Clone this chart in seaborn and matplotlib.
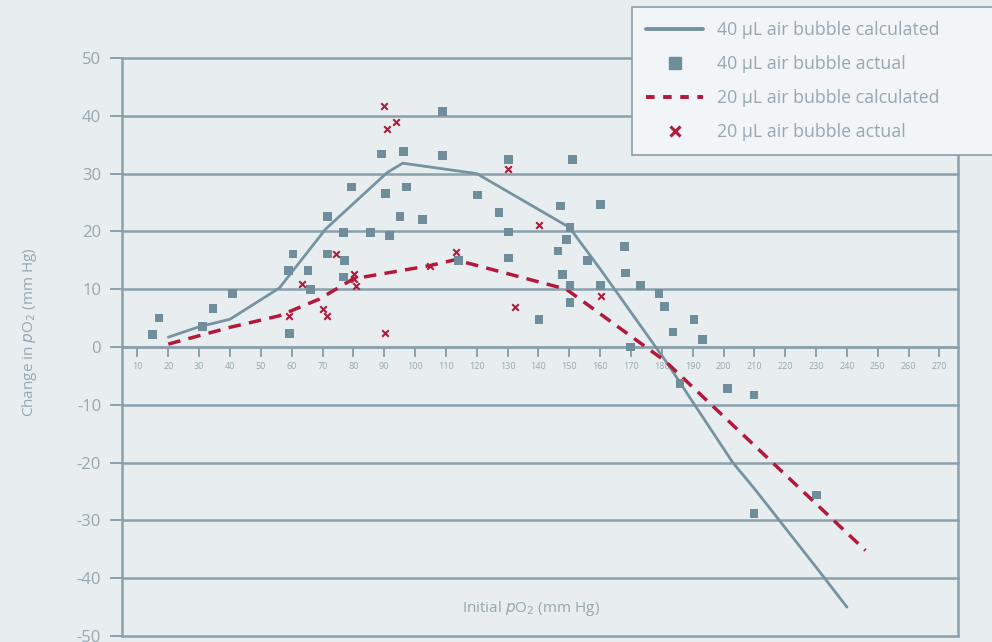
import matplotlib
matplotlib.use("Agg")
import matplotlib.pyplot as plt
import seaborn as sns
import pandas as pd
from matplotlib.lines import Line2D

# ---------------- data ----------------
calc40_x = [20, 30, 40, 56, 71, 91, 96, 120, 150, 160, 170, 182, 190, 203, 210, 220, 230, 240]
calc40_y = [1.7, 3.5, 4.8, 10.2, 20.4, 30.2, 31.8, 30.0, 20.7, 13.5, 6.0, -3.0, -9.5, -20.0, -24.5, -31.3, -38.1, -45.0]

calc20_x = [20, 40, 56, 69, 80, 105, 113, 149, 181, 246]
calc20_y = [0.5, 3.4, 5.4, 8.3, 11.8, 14.1, 15.1, 10.0, -2.4, -35.2]

act40_x = [14.8, 17.0, 31.1, 34.5, 40.8, 59.4, 59.1, 60.4, 65.3, 66.2, 71.6, 71.6, 76.8, 77.0, 76.8,
           79.5, 85.6, 89.1, 90.5, 91.7, 95.1, 96.2, 97.2, 102.4, 108.9, 108.9, 114.0, 120.2, 127.2,
           130.2, 130.2, 130.2, 140.2, 147.2, 146.3, 147.8, 149.1, 150.2, 150.2, 150.2, 151.0, 155.9,
           160.2, 160.2, 168.0, 168.3, 169.9, 173.1, 179.1, 180.9, 183.6, 190.4, 193.1, 185.9, 201.2,
           209.9, 230.1, 209.9]
act40_y = [2.1, 5.0, 3.6, 6.6, 9.3, 2.4, 13.2, 16.1, 13.2, 9.9, 22.6, 16.1, 19.8, 14.9, 12.1,
           27.7, 19.8, 33.4, 26.6, 19.3, 22.6, 33.8, 27.7, 22.0, 33.1, 40.7, 15.0, 26.3, 23.3,
           32.4, 19.9, 15.4, 4.7, 24.4, 16.6, 12.6, 18.6, 20.7, 10.7, 7.7, 32.4, 14.9,
           24.6, 10.7, 17.4, 12.8, 0.0, 10.7, 9.2, 7.0, 2.6, 4.7, 1.3, -6.3, -7.2,
           -8.3, -25.6, -28.8]

act20_x = [89.9, 91.0, 93.8, 74.3, 63.5, 59.1, 70.2, 71.6, 80.2, 80.2, 81.0, 90.3, 105.0,
           113.2, 130.2, 140.2, 132.4, 160.2]
act20_y = [41.7, 37.8, 39.0, 16.1, 10.9, 5.3, 6.6, 5.4, 12.6, 11.8, 10.6, 2.4, 14.1,
           16.4, 30.8, 21.1, 7.0, 8.9]

x_ticks = list(range(10, 280, 10))
y_ticks = list(range(-50, 60, 10))

labels = ["40 µL air bubble calculated", "40 µL air bubble actual",
          "20 µL air bubble calculated", "20 µL air bubble actual"]

# ---------------- style ----------------
BG = "#e8edf0"
GRID = "#8aa0ab"
BLUE = "#7693a1"
SQ = "#6f8d9b"
RED = "#b3193a"
TXT = "#97a7b0"

sns.set_theme(style="white")
plt.rcParams["font.family"] = ["Open Sans", "DejaVu Sans"]
plt.rcParams["mathtext.fontset"] = "dejavusans"

fig = plt.figure(figsize=(9.92, 6.42), dpi=100, facecolor=BG)
ax = fig.add_axes([122 / 992, 1 - 636 / 642, (958 - 122) / 992, (636 - 58) / 642])
ax.set_facecolor(BG)

for yv in y_ticks:
    ax.axhline(yv, color=GRID, lw=1.8, zorder=1, clip_on=False)

df40 = pd.DataFrame({"x": calc40_x, "y": calc40_y})
df20 = pd.DataFrame({"x": calc20_x, "y": calc20_y})
dfa40 = pd.DataFrame({"x": act40_x, "y": act40_y})
dfa20 = pd.DataFrame({"x": act20_x, "y": act20_y})

sns.lineplot(data=df40, x="x", y="y", ax=ax, color=BLUE, lw=2.0, sort=False, zorder=3)
sns.lineplot(data=df20, x="x", y="y", ax=ax, color=RED, lw=2.5, sort=False, zorder=4,
             dashes=False)
ax.lines[-1].set_dashes([3.6, 2.4])
sns.scatterplot(data=dfa40, x="x", y="y", ax=ax, marker="s", s=40, color=SQ,
                edgecolor="none", zorder=5)
sns.scatterplot(data=dfa20, x="x", y="y", ax=ax, marker="x", s=22, color=RED,
                linewidth=1.5, zorder=6)

ax.set_xlim(5, 276)
ax.set_ylim(-50, 50)
ax.set_xlabel("")
ax.set_ylabel("")

ax.spines["top"].set_visible(False)
for s in ["left", "right", "bottom"]:
    ax.spines[s].set_color(GRID)
    ax.spines[s].set_linewidth(1.8)
ax.spines["bottom"].set_position(("data", 0))

ax.set_xticks(x_ticks)
ax.set_xticklabels([str(v) for v in x_ticks])
ax.set_yticks(y_ticks)
ax.set_yticklabels([str(v) for v in y_ticks])
ax.tick_params(axis="x", direction="out", length=7, width=1.4, color=GRID,
               labelsize=6.5, labelcolor=TXT, pad=4, bottom=True)
ax.tick_params(axis="y", direction="out", length=9, width=1.4, color=GRID,
               labelsize=12, labelcolor=TXT, pad=6, left=True)

fig.text(30 / 992, 1 - 332 / 642, r"Change in $p$O$_2$ (mm Hg)", rotation=90,
         ha="center", va="center", fontsize=11, color=TXT)
ax.text(137.5, -45.3, r"Initial $p$O$_2$ (mm Hg)", ha="center", va="center",
        fontsize=11, color=TXT)

handles = [
    Line2D([], [], color=BLUE, lw=2.8),
    Line2D([], [], color=SQ, marker="s", ls="none", markersize=8),
    Line2D([], [], color=RED, lw=2.8, dashes=[2.2, 2.2]),
    Line2D([], [], color=RED, marker="x", ls="none", markersize=6.5, mew=2.2),
]
leg = fig.legend(handles, labels, loc="upper left",
                 bbox_to_anchor=(632 / 992, 0, 380 / 992, 1 - 7 / 642), mode="expand",
                 frameon=True, fontsize=12.8, labelspacing=0.9, handlelength=3.2,
                 handletextpad=0.8, borderpad=0.8, borderaxespad=0,
                 fancybox=False, labelcolor=TXT)
leg.get_frame().set_facecolor("#f1f5f8")
leg.get_frame().set_edgecolor(GRID)
leg.get_frame().set_linewidth(1.2)
leg.get_frame().set_alpha(1)
leg.set_zorder(10)

fig.savefig("out.png", dpi=100, facecolor=BG)
